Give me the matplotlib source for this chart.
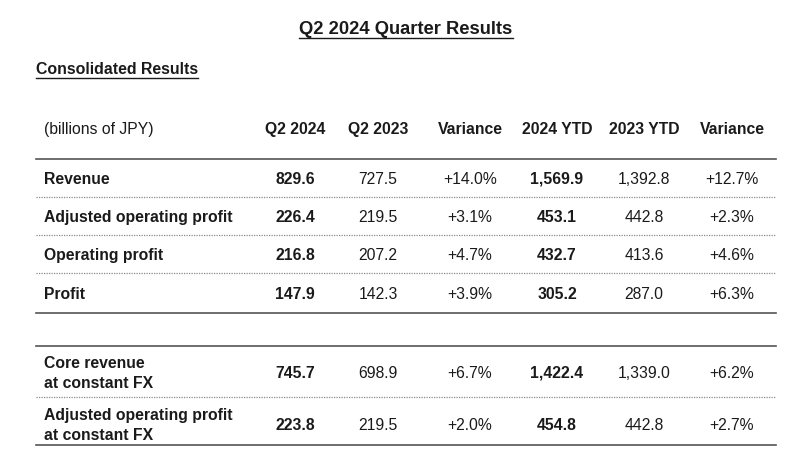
import matplotlib.pyplot as plt
import matplotlib

matplotlib.rc("font", family=['Liberation Sans', 'DejaVu Sans'])

title = 'Q2 2024 Quarter Results'
subtitle = 'Consolidated Results'
unit_label = '(billions of JPY)'
columns = ['Q2 2024', 'Q2 2023', 'Variance', '2024 YTD', '2023 YTD', 'Variance']

# main block
rows_main = ['Revenue', 'Adjusted operating profit', 'Operating profit', 'Profit']
q2_2024 = ['829.6', '226.4', '216.8', '147.9']
q2_2023 = ['727.5', '219.5', '207.2', '142.3']
var_q = ['+14.0%', '+3.1%', '+4.7%', '+3.9%']
ytd_2024 = ['1,569.9', '453.1', '432.7', '305.2']
ytd_2023 = ['1,392.8', '442.8', '413.6', '287.0']
var_ytd = ['+12.7%', '+2.3%', '+4.6%', '+6.3%']

# constant FX block
rows_fx = [['Core revenue', 'at constant FX'],
           ['Adjusted operating profit', 'at constant FX']]
fx_q2_2024 = ['745.7', '223.8']
fx_q2_2023 = ['698.9', '219.5']
fx_var_q = ['+6.7%', '+2.0%']
fx_ytd_2024 = ['1,422.4', '454.8']
fx_ytd_2023 = ['1,339.0', '442.8']
fx_var_ytd = ['+6.2%', '+2.7%']

W, H = 808, 465
fig = plt.figure(figsize=(W / 100, H / 100), dpi=100)
ax = fig.add_axes([0, 0, 1, 1])
ax.set_xlim(0, W)
ax.set_ylim(H, 0)
ax.axis('off')

ink = '#1a1a1a'
fs = 11.3
col_x = [295, 378, 470, 557, 644, 732]
bold_cols = [0, 3]
left, right = 36, 776
half_cap = 5.6  # baseline offset from visual centre of capitals


def underline(t, pad=2.5):
    fig.canvas.draw()
    bb = t.get_window_extent().transformed(ax.transData.inverted())
    y = max(bb.y0, bb.y1) + pad
    ax.plot([bb.x0, bb.x1], [y, y], color=ink, lw=1.0)


t1 = ax.text(406, 27, title, ha='center', va='center_baseline', fontsize=13.2,
             fontweight='bold', color=ink)
underline(t1, 0.5)
t2 = ax.text(36, 68, subtitle, ha='left', va='center_baseline', fontsize=11.4,
             fontweight='bold', color=ink)
underline(t2, 0.5)


def cell(x, y, s, ha='center', bold=False):
    ax.text(x, y + half_cap, s, ha=ha, va='baseline', fontsize=fs, color=ink,
            fontweight='bold' if bold else 'normal')


# header
cell(44, 128, unit_label, ha='left')
for x, c in zip(col_x, columns):
    cell(x, 128, c, bold=True)

ax.plot([left, right], [159, 159], color='#555555', lw=1.2)


def draw_row(y, label, vals):
    if isinstance(label, list):
        cell(44, y - 10, label[0], ha='left', bold=True)
        cell(44, y + 10, label[1], ha='left', bold=True)
    else:
        cell(44, y, label, ha='left', bold=True)
    for i, (x, v) in enumerate(zip(col_x, vals)):
        cell(x, y, v, bold=i in bold_cols)


main_y = [178, 216, 254, 293]
for i, (y, lab) in enumerate(zip(main_y, rows_main)):
    draw_row(y, lab, [q2_2024[i], q2_2023[i], var_q[i],
                      ytd_2024[i], ytd_2023[i], var_ytd[i]])
for y in [197, 235, 273]:
    ax.plot([left, right], [y, y], color='#8a8a8a', lw=0.9, ls=(0, (1, 1)))
ax.plot([left, right], [313, 313], color='#555555', lw=1.2)

ax.plot([left, right], [346, 346], color='#555555', lw=1.2)
fx_y = [372, 424]
for i, (y, lab) in enumerate(zip(fx_y, rows_fx)):
    draw_row(y, lab, [fx_q2_2024[i], fx_q2_2023[i], fx_var_q[i],
                      fx_ytd_2024[i], fx_ytd_2023[i], fx_var_ytd[i]])
ax.plot([left, right], [397, 397], color='#8a8a8a', lw=0.9, ls=(0, (1, 1)))
ax.plot([left, right], [445, 445], color='#555555', lw=1.2)

fig.savefig('out.png', dpi=100, facecolor='white')
